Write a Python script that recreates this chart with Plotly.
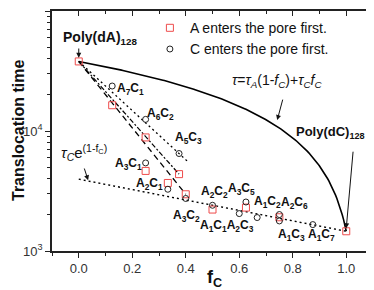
import numpy as np
import plotly.graph_objects as go

# ---- data ----
f_A_first = [0.0, 0.125, 0.25, 0.25, 0.333, 0.375, 0.4, 0.5, 0.625, 0.75, 1.0]
tau_A_first = [38000, 16400, 8840, 4650, 3690, 4370, 2970, 2215, 2300, 1910, 1460]

f_C_first = [0.125, 0.25, 0.375, 0.25, 0.333, 0.4, 0.5, 0.625, 0.6, 0.667, 0.75, 0.75, 0.875]
tau_C_first = [23700, 12500, 6490, 5420, 3270, 2740, 2405, 2560, 2050, 1900, 2013, 1780, 1660]

tau_A = 38000   # Poly(dA)128
tau_C = 1460    # Poly(dC)128

dashed_f = [0.0, 0.4]
dashed_tau = [38000, 2970]
dashdot_f = [0.0, 0.375]
dashdot_tau = [38000, 4370]
dotted_f = [0.0, 0.41]
dotted_tau = [38000, 5500]

x_ticks = [0.0, 0.2, 0.4, 0.6, 0.8, 1.0]
x_ticktext = ["0.0", "0.2", "0.4", "0.6", "0.8", "1.0"]
y_ticks = [1e3, 1e4, 1e5]
y_ticktext = ["10<sup>3</sup>", "10<sup>4</sup>", "10<sup>5</sup>"]

FONT = "Arial, Liberation Sans, sans-serif"

f_lin = np.linspace(0, 1, 201)
tau_lin = tau_A * (1 - f_lin) + tau_C * f_lin
f_exp = np.linspace(0, 1, 21)
tau_exp = tau_C * np.exp(1 - f_exp)

fig = go.Figure()
fig.add_trace(go.Scatter(x=f_lin, y=tau_lin, mode="lines",
                         line=dict(color="black", width=1.6), showlegend=False))
fig.add_trace(go.Scatter(x=f_exp, y=tau_exp, mode="lines",
                         line=dict(color="black", width=1.4, dash="2px,3px"), showlegend=False))
fig.add_trace(go.Scatter(x=dashed_f, y=dashed_tau, mode="lines",
                         line=dict(color="black", width=1.3, dash="6px,4px"), showlegend=False))
fig.add_trace(go.Scatter(x=dashdot_f, y=dashdot_tau, mode="lines",
                         line=dict(color="black", width=1.2, dash="5px,2px,2px,2px"), showlegend=False))
fig.add_trace(go.Scatter(x=dotted_f, y=dotted_tau, mode="lines",
                         line=dict(color="black", width=1.3, dash="2px,3px"), showlegend=False))
fig.add_trace(go.Scatter(x=f_A_first, y=tau_A_first, mode="markers",
                         name="A enters the pore first.",
                         marker=dict(symbol="square-open", size=7, color="#ee4b4b",
                                     line=dict(width=1))))
fig.add_trace(go.Scatter(x=f_C_first, y=tau_C_first, mode="markers",
                         name="C enters the pore first.",
                         marker=dict(symbol="circle-open", size=6, color="#222222",
                                     line=dict(width=1))))
# helper trace for top/right axes
fig.add_trace(go.Scatter(x=[None], y=[None], xaxis="x2", yaxis="y2", showlegend=False,
                         hoverinfo="skip"))

axcol = "#222222"
xminor = [-0.1, 0.1, 0.3, 0.5, 0.7, 0.9, 1.1]
yminor = [m * 10 ** d for d in (3, 4) for m in range(2, 10)]
# page body has an 8px default margin -> figure is 366x282 with matching offsets
fig.update_layout(
    width=366, height=282,
    margin=dict(l=44, r=1, t=3, b=39, autoexpand=False),
    paper_bgcolor="white", plot_bgcolor="white",
    font=dict(family=FONT, color="#222"),
    xaxis=dict(range=[-0.1, 1.1], tickvals=x_ticks, ticktext=x_ticktext, automargin=False,
               ticks="outside", ticklen=5, tickwidth=1.2, tickcolor=axcol,
               showline=True, linecolor=axcol, linewidth=1.5,
               showgrid=False, zeroline=False,
               tickfont=dict(size=13, color="#333"),
               minor=dict(tickvals=xminor, ticks="outside",
                          ticklen=3, tickcolor=axcol, showgrid=False)),
    yaxis=dict(type="log", range=[3, 5], tickvals=y_ticks, ticktext=y_ticktext, automargin=False,
               ticks="outside", ticklen=5, tickwidth=1.2, tickcolor=axcol,
               showline=True, linecolor=axcol, linewidth=1.5,
               showgrid=False, zeroline=False,
               tickfont=dict(size=13, color="#333"),
               minor=dict(tickvals=yminor,
                          ticks="outside", ticklen=3, tickcolor=axcol, showgrid=False)),
    xaxis2=dict(overlaying="x", side="top", matches="x", range=[-0.1, 1.1], automargin=False,
                tickvals=x_ticks, showticklabels=False, ticks="inside", ticklen=5,
                tickcolor=axcol, showline=True, linecolor=axcol, linewidth=1.5,
                showgrid=False, zeroline=False,
                minor=dict(tickvals=xminor, ticks="inside",
                           ticklen=3, tickcolor=axcol, showgrid=False)),
    yaxis2=dict(overlaying="y", side="right", type="log", range=[3, 5], matches="y",
                automargin=False,
                tickvals=y_ticks, showticklabels=False, ticks="inside", ticklen=5,
                tickcolor=axcol, showline=True, linecolor=axcol, linewidth=1.5,
                showgrid=False, zeroline=False,
                minor=dict(tickvals=yminor,
                           ticks="inside", ticklen=3, tickcolor=axcol, showgrid=False)),
    legend=dict(x=0.305, y=0.995, xanchor="left", yanchor="top",
                bgcolor="rgba(0,0,0,0)", borderwidth=0,
                font=dict(size=14, family=FONT, color="#111"),
                itemwidth=30, tracegroupgap=0),
)

def txt(x, y, s, size=12):
    fig.add_annotation(x=x, y=y, xref="x", yref="y", text=s, showarrow=False,
                       font=dict(size=size, family=FONT, color="#111"),
                       xanchor="center", yanchor="middle")

def arrow(x0, y0, x1, y1):
    fig.add_annotation(x=x1, y=y1, ax=x0, ay=y0, xref="x", yref="y", axref="x", ayref="y",
                       text="", showarrow=True, arrowhead=2, arrowsize=1, arrowwidth=1,
                       arrowcolor="#111")

txt(0.079, 4.775, "<b>Poly(dA)<sub>128</sub></b>", 14)
arrow(0.0, 4.70, 0.0, 4.61)
txt(0.742, 4.415, "<i>τ</i>=<i>τ<sub>A</sub></i>(1-<i>f<sub>C</sub></i>)+<i>τ<sub>C</sub>f<sub>C</sub></i>", 14)
arrow(0.764, 4.274, 0.742, 4.091)
txt(0.940, 3.99, "<b>Poly(dC)<sub>128</sub></b>", 13)
arrow(1.026, 3.84, 1.0, 3.189)
txt(0.02, 3.824, "<i>τ<sub>C</sub></i>e<sup>(1-f<sub>C</sub>)</sup>", 15)
arrow(0.019, 3.70, 0.035, 3.59)

labels = [
    (0.195, 4.349, "A<sub>7</sub>C<sub>1</sub>"),
    (0.307, 4.141, "A<sub>6</sub>C<sub>2</sub>"),
    (0.412, 3.940, "A<sub>5</sub>C<sub>3</sub>"),
    (0.187, 3.723, "A<sub>3</sub>C<sub>1</sub>"),
    (0.266, 3.557, "A<sub>2</sub>C<sub>1</sub>"),
    (0.404, 3.290, "A<sub>3</sub>C<sub>2</sub>"),
    (0.506, 3.490, "A<sub>2</sub>C<sub>2</sub>"),
    (0.554, 3.206, "A<sub>1</sub>C<sub>1</sub>A<sub>2</sub>C<sub>3</sub>"),
    (0.610, 3.515, "A<sub>3</sub>C<sub>5</sub>"),
    (0.704, 3.406, "A<sub>1</sub>C<sub>2</sub>"),
    (0.805, 3.398, "A<sub>2</sub>C<sub>6</sub>"),
    (0.794, 3.131, "A<sub>1</sub>C<sub>3</sub>"),
    (0.906, 3.131, "A<sub>1</sub>C<sub>7</sub>"),
]
for x, y, s in labels:
    txt(x, y, "<b>" + s + "</b>", 12)

fig.add_annotation(x=-0.106, y=0.504, xref="paper", yref="paper",
                   xanchor="center", yanchor="middle",
                   text="<b>Translocation time</b>", textangle=-90, showarrow=False,
                   font=dict(size=16, family=FONT, color="#111"))
fig.add_annotation(x=0.505, y=-0.115, xref="paper", yref="paper",
                   xanchor="center", yanchor="middle",
                   text="<b>f<sub>C</sub></b>", showarrow=False,
                   font=dict(size=18, family=FONT, color="#111"))

fig.write_html("out.html")
